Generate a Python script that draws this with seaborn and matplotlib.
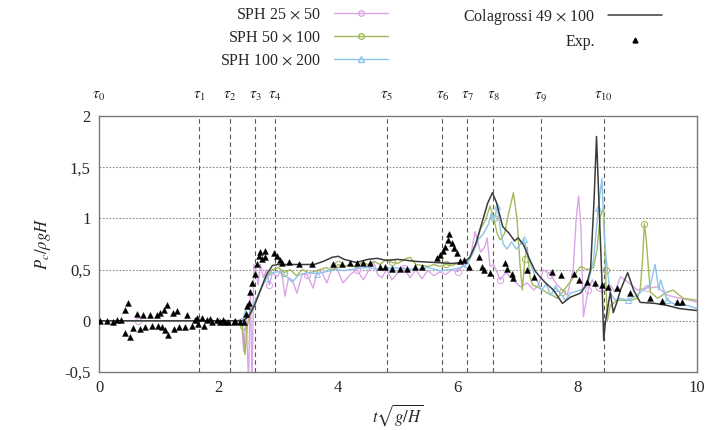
import matplotlib
matplotlib.use("Agg")
import matplotlib.pyplot as plt
import seaborn as sns
from matplotlib.lines import Line2D
from matplotlib.transforms import blended_transform_factory

# Colagrossi 49 x 100
t_col = [0, 1.0, 2.0, 2.4, 2.5, 2.6, 2.7, 2.8, 2.9, 3.0,
         3.3, 3.6, 3.75, 3.9, 4.0, 4.1, 4.3, 4.5, 4.65, 4.8,
         5.0, 5.3, 5.6, 5.9, 6.1, 6.2, 6.3, 6.4, 6.5, 6.58,
         6.65, 6.75, 6.85, 6.95, 7.01, 7.1, 7.2, 7.3, 7.45, 7.6,
         7.75, 7.88, 8.05, 8.15, 8.22, 8.28, 8.32, 8.37, 8.41, 8.44,
         8.47, 8.5, 8.55, 8.6, 8.66, 8.72, 8.84, 8.94, 9.05, 9.3,
         9.5, 9.7, 10.0]
p_col = [0, 0, 0, 0.0, 0.04, 0.15, 0.3, 0.45, 0.54, 0.55,
         0.55, 0.55, 0.58, 0.62, 0.63, 0.6, 0.57, 0.6, 0.61, 0.59,
         0.6, 0.58, 0.57, 0.56, 0.57, 0.62, 0.75, 0.95, 1.15, 1.25,
         1.15, 0.92, 0.86, 0.78, 0.81, 0.74, 0.6, 0.48, 0.38, 0.3,
         0.17, 0.23, 0.27, 0.35, 0.5, 1.2, 1.8, 1.0, 0.4, -0.19,
         0.0, 0.1, 0.28, 0.08, 0.18, 0.3, 0.47, 0.3, 0.18, 0.17,
         0.15, 0.12, 0.1]

# SPH 25 x 50
t_25 = [0, 0.33, 0.66, 1.0, 1.33, 1.66, 2.0, 2.3, 2.38, 2.42, 2.46, 2.5,
        2.53, 2.56, 2.59, 2.62, 2.66, 2.7, 2.75, 2.8, 2.85, 2.9,
        2.98, 3.05, 3.11, 3.17, 3.23, 3.31, 3.4, 3.48, 3.58, 3.66,
        3.73, 3.81, 3.9, 3.98, 4.08, 4.2, 4.31, 4.42, 4.5, 4.59,
        4.66, 4.73, 4.81, 4.9, 5.0, 5.1, 5.2, 5.3, 5.4, 5.5,
        5.6, 5.7, 5.8, 5.9, 6.0, 6.1, 6.21, 6.29, 6.38, 6.45,
        6.49, 6.54, 6.6, 6.71, 6.8, 6.88, 6.96, 7.05, 7.16, 7.27,
        7.35, 7.43, 7.55, 7.66, 7.75, 7.83, 7.93, 7.98, 8.02, 8.06,
        8.1, 8.18, 8.25, 8.33, 8.42, 8.55, 8.63, 8.72, 8.84, 9.0,
        9.17, 9.34, 9.5, 9.72, 9.89, 10.0]
p_25 = [0, 0, 0, 0, 0, 0, 0, 0, 0.02, -0.3, 0.05, -0.6,
        0.3, -0.6, 0.55, 0.5, 0.35, 0.55, 0.42, 0.5, 0.35, 0.47,
        0.43, 0.5, 0.24, 0.42, 0.4, 0.27, 0.46, 0.45, 0.32, 0.5,
        0.47, 0.37, 0.52, 0.51, 0.37, 0.45, 0.5, 0.4, 0.48, 0.58,
        0.45, 0.42, 0.5, 0.4, 0.47, 0.52, 0.42, 0.5, 0.41, 0.49,
        0.44, 0.48, 0.45, 0.5, 0.48, 0.55, 0.62, 0.87, 0.67, 0.72,
        0.81, 0.53, 0.55, 0.4, 0.47, 0.43, 0.38, 0.33, 0.37, 0.3,
        0.35, 0.5, 0.45, 0.35, 0.3, 0.25, 0.5, 1.0, 1.22, 0.9,
        0.04, 0.3, 0.4, 0.3, 0.28, 0.35, 0.28, 0.43, 0.38, 0.3,
        0.32, 0.33, 0.25, 0.22, 0.2, 0.18]

# SPH 50 x 100
t_50 = [0, 1.0, 2.0, 2.35, 2.4, 2.44, 2.48, 2.52, 2.6, 2.7,
        2.8, 2.9, 3.0, 3.1, 3.2, 3.3, 3.4, 3.5, 3.6, 3.7,
        3.8, 3.9, 4.0, 4.1, 4.2, 4.3, 4.4, 4.5, 4.6, 4.7,
        4.8, 4.9, 5.0, 5.1, 5.2, 5.3, 5.4, 5.5, 5.6, 5.7,
        5.8, 5.9, 6.0, 6.1, 6.2, 6.3, 6.38, 6.46, 6.54, 6.6,
        6.66, 6.71, 6.78, 6.85, 6.93, 6.99, 7.04, 7.08, 7.12, 7.16,
        7.2, 7.25, 7.33, 7.42, 7.5, 7.58, 7.66, 7.75, 7.88, 7.96,
        8.05, 8.17, 8.27, 8.33, 8.38, 8.44, 8.47, 8.5, 8.55, 8.67,
        8.77, 8.9, 9.0, 9.05, 9.09, 9.12, 9.15, 9.19, 9.22, 9.34,
        9.5, 9.6, 9.77, 10.0]
p_50 = [0, 0, 0, 0.0, -0.05, -0.33, -0.05, 0.05, 0.15, 0.3,
        0.42, 0.5, 0.52, 0.47, 0.5, 0.44, 0.5, 0.47, 0.48, 0.5,
        0.52, 0.49, 0.55, 0.53, 0.55, 0.52, 0.57, 0.55, 0.58, 0.55,
        0.6, 0.57, 0.56, 0.6, 0.62, 0.55, 0.54, 0.53, 0.55, 0.53,
        0.55, 0.54, 0.56, 0.57, 0.6, 0.75, 0.9, 0.98, 1.12, 1.0,
        0.85, 0.79, 0.85, 1.05, 1.25, 1.0, 0.55, 0.3, 0.6, 0.72,
        0.45, 0.35, 0.33, 0.3, 0.27, 0.25, 0.22, 0.28, 0.38, 0.45,
        0.53, 0.5, 0.52, 0.7, 1.02, 1.1, 0.5, 0.0, 0.15, 0.2,
        0.2, 0.2, 0.22, 0.3, 0.6, 0.95, 0.8, 0.5, 0.28, 0.22,
        0.28, 0.3, 0.22, 0.2]

# SPH 100 x 200
t_100 = [0, 1.0, 2.0, 2.4, 2.45, 2.5, 2.55, 2.6, 2.7, 2.8,
         2.9, 3.0, 3.1, 3.23, 3.35, 3.5, 3.65, 3.8, 3.95, 4.1,
         4.3, 4.5, 4.7, 4.9, 5.1, 5.3, 5.5, 5.7, 5.9, 6.05,
         6.15, 6.26, 6.35, 6.43, 6.51, 6.56, 6.61, 6.66, 6.71, 6.76,
         6.82, 6.9, 6.98, 7.05, 7.1, 7.16, 7.22, 7.3, 7.4, 7.48,
         7.55, 7.63, 7.7, 7.8, 7.88, 8.05, 8.17, 8.27, 8.35, 8.41,
         8.45, 8.5, 8.55, 8.64, 8.72, 8.84, 9.0, 9.1, 9.22, 9.3,
         9.36, 9.39, 9.5, 9.67, 9.84, 10.0]
p_100 = [0, 0, 0, 0.0, 0.1, 0.05, 0.12, 0.18, 0.3, 0.42,
         0.47, 0.48, 0.45, 0.38, 0.45, 0.47, 0.46, 0.48, 0.5, 0.49,
         0.51, 0.52, 0.5, 0.52, 0.51, 0.5, 0.52, 0.49, 0.5, 0.52,
         0.55, 0.67, 0.8, 0.85, 0.94, 1.05, 0.98, 1.12, 0.9, 0.75,
         0.7, 0.77, 0.7, 0.75, 0.8, 0.67, 0.55, 0.42, 0.3, 0.36,
         0.25, 0.32, 0.28, 0.2, 0.27, 0.3, 0.35, 0.6, 1.1, 1.39,
         0.82, 0.5, 0.27, 0.2, 0.22, 0.2, 0.25, 0.3, 0.35, 0.55,
         0.3, 0.4, 0.2, 0.15, 0.15, 0.12]

# experiment
t_exp = [0.02, 0.13, 0.24, 0.30, 0.37, 0.44, 0.44, 0.49, 0.52, 0.57,
         0.63, 0.69, 0.74, 0.77, 0.85, 0.88, 0.97, 0.98, 1.02, 1.05,
         1.08, 1.10, 1.13, 1.15, 1.24, 1.26, 1.30, 1.33, 1.44, 1.47,
         1.55, 1.61, 1.64, 1.66, 1.72, 1.75, 1.80, 1.86, 1.89, 1.97,
         2.03, 2.08, 2.11, 2.16, 2.25, 2.28, 2.36, 2.42, 2.46, 2.47,
         2.50, 2.53, 2.56, 2.61, 2.64, 2.67, 2.69, 2.72, 2.78, 2.78,
         2.92, 2.97, 3.02, 3.06, 3.17, 3.34, 3.56, 3.92, 4.06, 4.20,
         4.31, 4.42, 4.54, 4.70, 4.79, 4.90, 5.04, 5.15, 5.29, 5.40,
         5.65, 5.71, 5.76, 5.79, 5.83, 5.86, 5.90, 5.94, 5.99, 6.04,
         6.10, 6.18, 6.35, 6.40, 6.43, 6.54, 6.79, 6.82, 6.91, 6.93,
         7.15, 7.28, 7.57, 7.72, 7.94, 8.02, 8.16, 8.30, 8.41, 8.51,
         8.66, 8.88, 9.21, 9.42, 9.67, 9.75]
p_exp = [0.0, 0.0, -0.01, 0.01, 0.01, 0.11, -0.12, 0.17, -0.16, -0.07,
         0.07, -0.08, 0.06, -0.06, 0.06, -0.05, 0.06, -0.05, 0.08, -0.06,
         0.11, -0.09, 0.15, -0.14, 0.08, -0.08, 0.10, -0.06, -0.06, 0.06,
         -0.05, 0.01, 0.03, -0.03, 0.03, -0.05, 0.01, 0.02, -0.01, 0.01,
         -0.01, 0.01, -0.01, -0.01, -0.01, 0.0, -0.01, -0.01, 0.07, 0.14,
         0.17, 0.28, 0.37, 0.46, 0.55, 0.63, 0.67, 0.60, 0.68, 0.62,
         0.66, 0.63, 0.59, 0.56, 0.57, 0.55, 0.55, 0.55, 0.55, 0.56,
         0.56, 0.56, 0.56, 0.53, 0.53, 0.51, 0.51, 0.51, 0.53, 0.53,
         0.61, 0.64, 0.68, 0.72, 0.79, 0.85, 0.76, 0.71, 0.66, 0.58,
         0.59, 0.53, 0.62, 0.53, 0.50, 0.47, 0.56, 0.51, 0.46, 0.42,
         0.50, 0.43, 0.48, 0.45, 0.46, 0.40, 0.38, 0.37, 0.35, 0.33,
         0.32, 0.27, 0.22, 0.19, 0.18, 0.18]

tau_t = [0, 1.67, 2.19, 2.61, 2.94, 4.81, 5.74, 6.16, 6.59, 7.39, 8.44]
tau_labels = [r"$\tau_{%d}$" % i for i in range(len(tau_t))]
y_ticks = [-0.5, 0, 0.5, 1, 1.5, 2]
y_ticklabels = ["-0,5", "0", "0,5", "1", "1,5", "2"]
x_ticks = [0, 2, 4, 6, 8, 10]

c25 = "#dba6e6"
c50 = "#a2ba5a"
c100 = "#8cc4ea"
ccol = "#3c3c3c"

sns.set_style("white")
plt.rcParams["font.family"] = ["Liberation Serif", "DejaVu Serif"]
plt.rcParams["mathtext.fontset"] = "stix"

fig = plt.figure(figsize=(7.09, 4.30), dpi=100)
ax = fig.add_axes([99 / 709, 1 - 372 / 430, 598 / 709, 256 / 430])

for t in tau_t[1:]:
    ax.axvline(t, color="#555555", lw=0.8, ls=(0, (4, 3)), zorder=1)
for yv in y_ticks[1:-1]:
    ax.axhline(yv, color="#8a8a8a", lw=0.8, ls=(0, (1.5, 1.5)), zorder=1)

sns.lineplot(x=t_25, y=p_25, ax=ax, color=c25, lw=1.0, sort=False, estimator=None,
             marker="o", markersize=4.5, mfc="none", mec=c25, markevery=(2, 9), zorder=3)
sns.lineplot(x=t_50, y=p_50, ax=ax, color=c50, lw=1.0, sort=False, estimator=None,
             marker="o", markersize=4.5, mfc="none", mec=c50, markevery=(4, 9), zorder=3)
sns.lineplot(x=t_100, y=p_100, ax=ax, color=c100, lw=1.0, sort=False, estimator=None,
             marker="^", markersize=4.5, mfc="none", mec=c100, markevery=(2, 7), zorder=3)
sns.lineplot(x=t_col, y=p_col, ax=ax, color=ccol, lw=1.1, sort=False, estimator=None, zorder=4)
sns.scatterplot(x=t_exp, y=p_exp, ax=ax, color="black", marker="^", s=18,
                edgecolor="black", linewidth=0.3, zorder=5)

ax.set_xlim(0, 10)
ax.set_ylim(-0.5, 2)
ax.set_xticks(x_ticks)
ax.set_yticks(y_ticks)
ax.set_yticklabels(y_ticklabels)
ax.tick_params(direction="in", length=3, color="#777777", labelsize=12, pad=6)
for s in ax.spines.values():
    s.set_color("#7a7a7a")
    s.set_linewidth(1.0)

trans = blended_transform_factory(ax.transData, ax.transAxes)
for t, lab in zip(tau_t, tau_labels):
    ax.text(t, 1.075, lab, transform=trans, ha="center", va="center", fontsize=11)

ax.set_ylabel(r"$P_c/\rho g H$", fontsize=12, labelpad=8)
ax.set_xlabel(r"$t\sqrt{g/H}$", fontsize=12, labelpad=4)

h1 = [Line2D([], [], color=c25, lw=1.0, marker="o", markersize=4, mfc="none"),
      Line2D([], [], color=c50, lw=1.0, marker="o", markersize=4, mfc="none"),
      Line2D([], [], color=c100, lw=1.0, marker="^", markersize=4, mfc="none")]
l1 = [r"SPH 25 $\times$ 50", r"SPH 50 $\times$ 100", r"SPH 100 $\times$ 200"]
leg1 = fig.legend(h1, l1, loc="upper right", bbox_to_anchor=(388 / 709, 1 - 7 / 430),
                  frameon=False, markerfirst=False, fontsize=11.5, handlelength=3.4,
                  handletextpad=0.8, labelspacing=0.42, borderpad=0, borderaxespad=0)
h2 = [Line2D([], [], color=ccol, lw=1.1),
      Line2D([], [], color="black", lw=0, marker="^", markersize=3.5)]
l2 = [r"Colagrossi 49 $\times$ 100", "Exp."]
leg2 = fig.legend(h2, l2, loc="upper right", bbox_to_anchor=(662 / 709, 1 - 7 / 430),
                  frameon=False, markerfirst=False, fontsize=11.5, handlelength=3.4,
                  handletextpad=0.8, labelspacing=0.42, borderpad=0, borderaxespad=0)

fig.savefig("out.png", dpi=100)
